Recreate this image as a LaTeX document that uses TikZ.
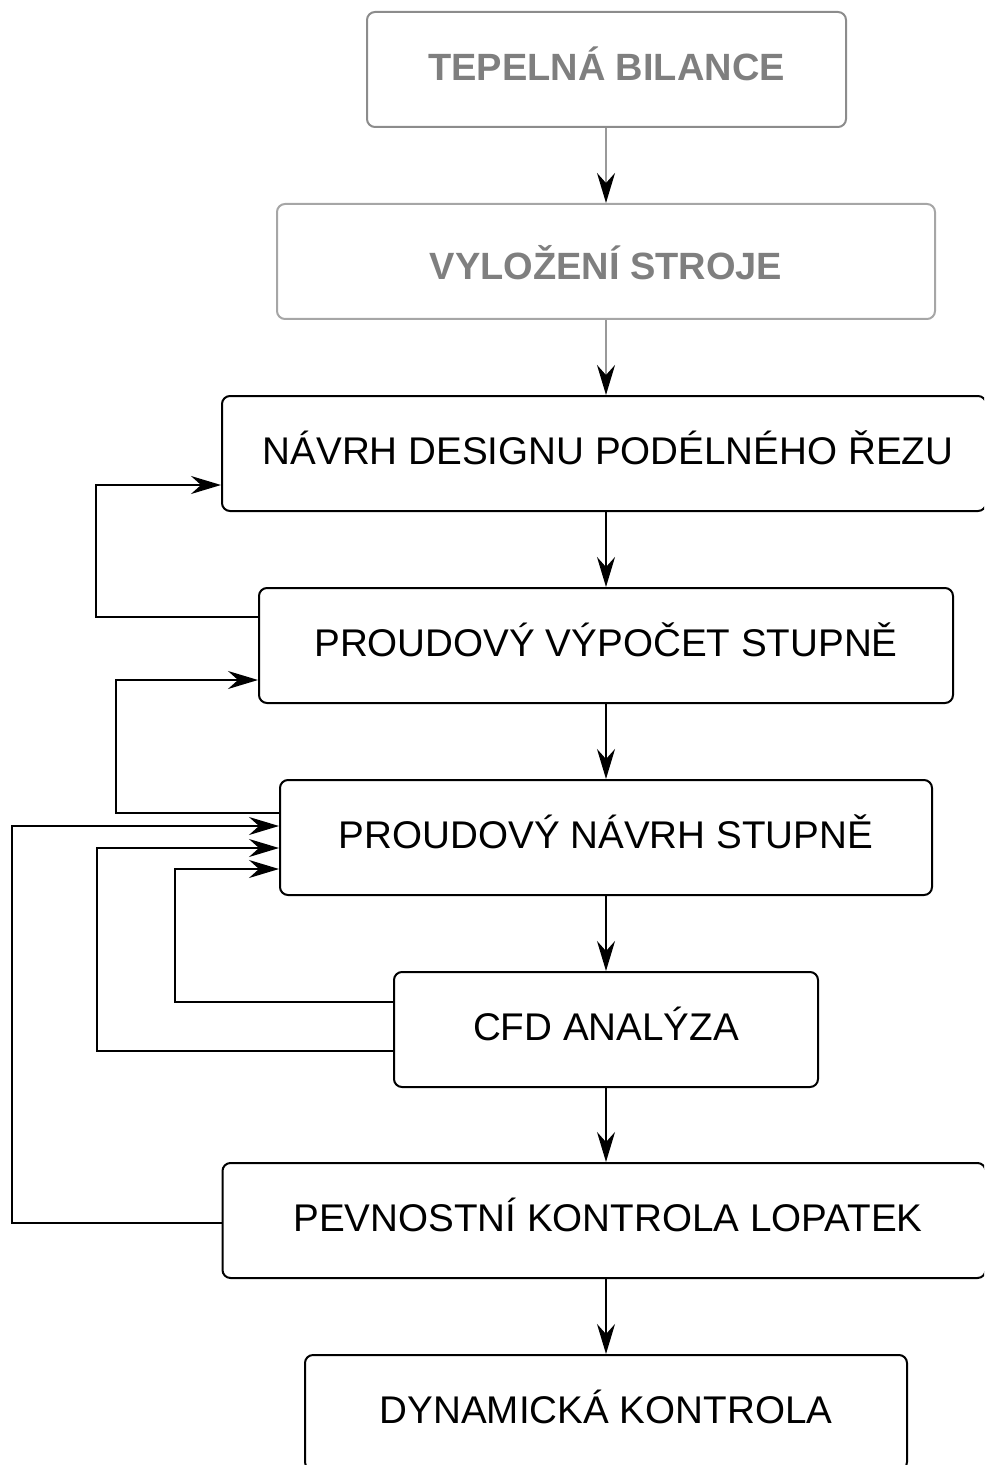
\documentclass[tikz,border=0pt]{standalone}
\usepackage{fontspec}
\setmainfont{Liberation Sans}
\usetikzlibrary{arrows.meta}
\definecolor{gbord}{HTML}{8C8C8C}
\definecolor{gbord2}{HTML}{A6A6A6}
\definecolor{gtext}{HTML}{7F7F7F}
\definecolor{gline}{HTML}{999999}
\begin{document}
\begin{tikzpicture}[x=0.5pt,y=-0.5pt,
  box/.style={draw=black,line width=1pt,rounded corners=4pt,minimum height=57.5pt,inner sep=0pt,
    text height=14pt,text depth=2.7pt,
    font=\fontsize{19.3}{22}\selectfont,text=black},
  gbox/.style={box,draw=gbord,text=gtext,font=\fontsize{19}{22}\selectfont\bfseries},
  arr/.style={line width=1pt,-{Stealth[length=15pt,width=9pt,inset=5pt,color=black]}},
  garr/.style={arr,draw=gline}]
\useasboundingbox (0,0) rectangle (984,1465);
\clip (0,0) rectangle (984,1465);
\coordinate (ax) at (606,0);
\node[gbox,minimum width=239.5pt] (b1) at (606.5,69.5) {TEPELNÁ BILANCE};
\node[gbox,draw=gbord2,minimum width=329pt] (b2) at (606,261.5) {\raisebox{-3.5pt}{VYLOŽENÍ STROJE}};
\node[box,minimum width=382pt] (b3) at (604,453.5) {\hspace{4pt}NÁVRH DESIGNU PODÉLNÉHO ŘEZU};
\node[box,minimum width=347pt] (b4) at (606,645.5) {PROUDOVÝ VÝPOČET STUPNĚ};
\node[box,minimum width=326pt] (b5) at (606,837.5) {PROUDOVÝ NÁVRH STUPNĚ};
\node[box,minimum width=212pt] (b6) at (606,1029.5) {CFD ANALÝZA};
\node[box,minimum width=381.5pt] (b7) at (604,1220.5) {\hspace{4pt}PEVNOSTNÍ KONTROLA LOPATEK};
\node[box,minimum width=301pt] (b8) at (606,1412.5) {DYNAMICKÁ KONTROLA};
% main flow
\draw[garr] (b1.south -| ax) -- (b2.north -| ax);
\draw[garr] (b2.south -| ax) -- (b3.north -| ax);
\draw[arr] (b3.south -| ax) -- (b4.north -| ax);
\draw[arr] (b4.south -| ax) -- (b5.north -| ax);
\draw[arr] (b5.south -| ax) -- (b6.north -| ax);
\draw[arr] (b6.south -| ax) -- (b7.north -| ax);
\draw[arr] (b7.south -| ax) -- (b8.north -| ax);
% feedback loops
\draw[arr] (b4.west |- 0,617) -| (96,485) -- (b3.west |- 0,485);
\draw[arr] (b5.west |- 0,813) -| (116,680) -- (b4.west |- 0,680);
\draw[arr] (b7.west |- 0,1223) -| (12,826) -- (b5.west |- 0,826);
\draw[arr] (b6.west |- 0,1051) -| (97,848) -- (b5.west |- 0,848);
\draw[arr] (b6.west |- 0,1002) -| (175,869) -- (b5.west |- 0,869);
\end{tikzpicture}
\end{document}
